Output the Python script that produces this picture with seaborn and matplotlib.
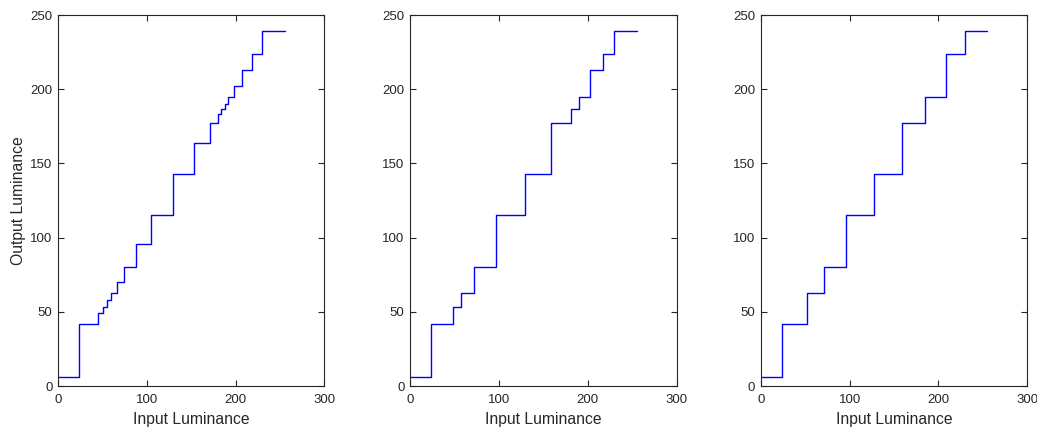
import matplotlib
matplotlib.use('Agg')
import matplotlib.pyplot as plt
import seaborn as sns
import pandas as pd

# Step edges (input) and output levels
edges_a = [0, 24, 45, 51, 55, 60, 66, 74, 88, 105, 129, 153, 171, 180, 184, 188, 191, 198, 207, 218, 230, 255]
levels_a = [6, 42, 49, 53, 58, 63, 70, 80, 96, 115, 143, 164, 177, 183, 187, 190, 195, 202, 213, 224, 239, 239]

edges_b = [0, 24, 48, 57, 72, 97, 129, 159, 181, 190, 203, 217, 230, 255]
levels_b = [6, 42, 53, 63, 80, 115, 143, 177, 187, 195, 213, 224, 239, 239]

edges_c = [0, 24, 52, 71, 96, 128, 159, 185, 209, 230, 255]
levels_c = [6, 42, 63, 80, 115, 143, 177, 195, 224, 239, 239]

curves = [(edges_a, levels_a), (edges_b, levels_b), (edges_c, levels_c)]

sns.set_style('ticks')
plt.rcParams['font.family'] = ['Liberation Sans', 'DejaVu Sans']
plt.rcParams['xtick.direction'] = 'in'
plt.rcParams['ytick.direction'] = 'in'

fig = plt.figure(figsize=(10.37, 4.30), dpi=100)
lefts = [0.0559, 0.3954, 0.7336]

for i, (ex, lv) in enumerate(curves):
    ax = fig.add_axes([lefts[i], 0.1023, 0.2570, 0.8628])
    df = pd.DataFrame({'x': ex, 'y': lv})
    sns.lineplot(data=df, x='x', y='y', ax=ax, color='#0000ff', linewidth=1.0,
                 drawstyle='steps-post', sort=False, estimator=None)
    ax.set_xlim(0, 300)
    ax.set_ylim(0, 250)
    ax.set_xticks([0, 100, 200, 300])
    ax.set_yticks([0, 50, 100, 150, 200, 250])
    ax.tick_params(top=True, right=True, labelsize=9.5, length=4, width=0.8)
    ax.tick_params(axis='x', pad=6)
    ax.tick_params(axis='y', pad=4)
    for s in ax.spines.values():
        s.set_linewidth(0.8)
    ax.set_xlabel('Input Luminance', fontsize=11.3, labelpad=4)
    if i == 0:
        ax.set_ylabel('Output Luminance', fontsize=11.3, labelpad=3)
    else:
        ax.set_ylabel('')

fig.savefig('out.png', dpi=100)
